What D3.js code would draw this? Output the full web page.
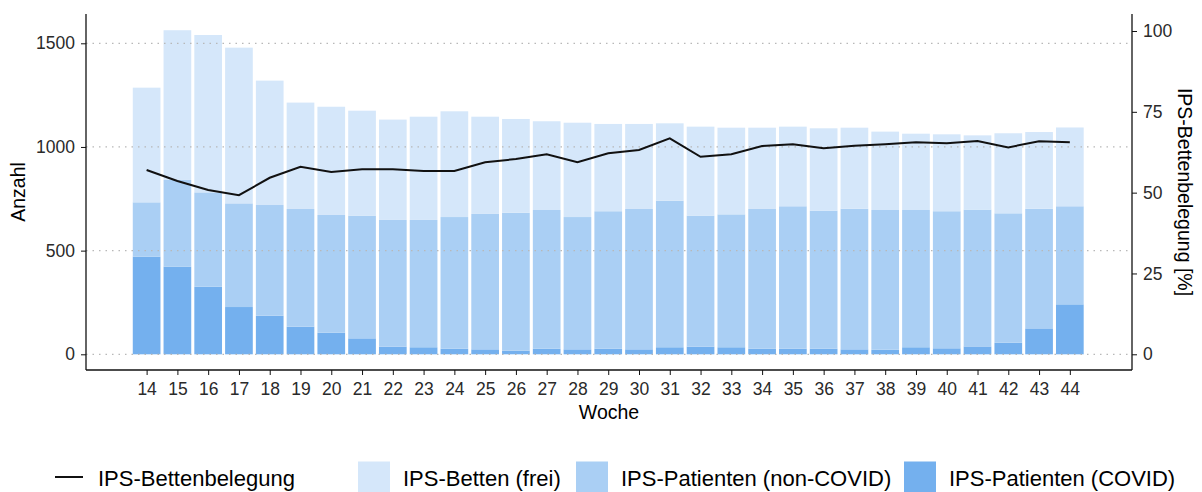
<!DOCTYPE html>
<html>
<head>
<meta charset="utf-8">
<title>IPS-Bettenbelegung</title>
<style>
  body { margin: 0; background: #fff; }
  svg text { font-family: "Liberation Sans", Arial, sans-serif; }
  .grid line { stroke: #b8b8b8; stroke-dasharray: 1.5,5; stroke-width: 1.2; }
  .axis path, .axis line { stroke: #111; }
  .axis text { fill: #2a2a2a; font-size: 17.5px; }
</style>
</head>
<body>
<script src="https://d3js.org/d3.v7.min.js"></script>
<script>
// data
var weeks      = [14,15,16,17,18,19,20,21,22,23,24,25,26,27,28,29,30,31,32,33,34,35,36,37,38,39,40,41,42,43,44];
var covid      = [471,423,326,228,186,133,104,77,37,34,27,24,17,27,24,27,24,34,37,34,27,27,27,24,22,34,29,38,56,125,241];
var nonCovid   = [262,418,455,500,534,568,568,592,611,614,635,653,666,669,638,663,677,707,632,641,674,687,666,678,674,662,661,660,624,577,473];
var frei       = [553,722,759,751,600,513,522,506,484,498,510,469,452,428,455,421,410,373,429,418,392,384,397,391,378,368,371,358,386,370,380];
var belegung   = [57.0,53.6,50.8,49.2,54.6,58.0,56.4,57.2,57.2,56.7,56.7,59.4,60.4,61.9,59.4,62.2,63.2,66.8,61.1,61.9,64.4,65.0,63.7,64.5,65.0,65.6,65.3,66.0,64.0,65.9,65.6];
var leftTicks  = [0,500,1000,1500];
var rightTicks = [0,25,50,75,100];

var seriesKeys   = ["covid","nonCovid","frei"];
var seriesColors = {covid: "#74b0ee", nonCovid: "#aacff4", frei: "#d5e7fa"};

var W = 1202, H = 492;
var pLeft = 86, pRight = 1132, pTop = 14, pBottom = 370;

var svg = d3.select("body").append("svg")
    .attr("width", W).attr("height", H);

var x = d3.scaleLinear().domain([12.03, 46.02]).range([pLeft, pRight]);
var y = d3.scaleLinear().domain([-75.7, 1641.3]).range([pBottom, pTop]);
var y2 = d3.scaleLinear().domain([-4.86, 105.26]).range([pBottom, pTop]);

var table = weeks.map(function(w, i){
    return {week: w, covid: covid[i], nonCovid: nonCovid[i], frei: frei[i]};
});
var stacked = d3.stack().keys(seriesKeys)(table);

var barW = x(0.9) - x(0);

svg.append("g").selectAll("g")
    .data(stacked)
    .enter().append("g")
    .attr("fill", function(d){ return seriesColors[d.key]; })
    .selectAll("rect")
    .data(function(d){ return d; })
    .enter().append("rect")
    .attr("x", function(d){ return x(d.data.week) - barW / 2; })
    .attr("y", function(d){ return y(d[1]); })
    .attr("width", barW)
    .attr("height", function(d){ return y(d[0]) - y(d[1]); });

// dotted grid on top of bars
svg.append("g").attr("class", "grid")
    .selectAll("line")
    .data(leftTicks)
    .enter().append("line")
    .attr("x1", pLeft).attr("x2", pRight)
    .attr("y1", function(d){ return y(d); })
    .attr("y2", function(d){ return y(d); });

// occupancy line
var line = d3.line()
    .x(function(d, i){ return x(weeks[i]); })
    .y(function(d){ return y2(d); });

svg.append("path")
    .datum(belegung)
    .attr("fill", "none")
    .attr("stroke", "#111")
    .attr("stroke-width", 2)
    .attr("d", line);

// axes
svg.append("g").attr("class", "axis")
    .attr("transform", "translate(" + pLeft + ",0)")
    .call(d3.axisLeft(y).tickValues(leftTicks).tickFormat(d3.format("d")).tickSize(5).tickPadding(6))
    .call(function(g){ g.select(".domain").attr("d", "M0," + pTop + "V" + pBottom).attr("stroke-width", 1.3); });

svg.append("g").attr("class", "axis")
    .attr("transform", "translate(" + pRight + ",0)")
    .call(d3.axisRight(y2).tickValues(rightTicks).tickFormat(d3.format("d")).tickSize(5).tickPadding(6))
    .call(function(g){ g.select(".domain").attr("d", "M0," + pTop + "V" + pBottom).attr("stroke-width", 1.3); });

svg.append("g").attr("class", "axis")
    .attr("transform", "translate(0," + pBottom + ")")
    .call(d3.axisBottom(x).tickValues(weeks).tickFormat(d3.format("d")).tickSize(5).tickPadding(8))
    .call(function(g){ g.select(".domain").attr("d", "M" + pLeft + ",0H" + pRight).attr("stroke-width", 1.3); });

// axis titles
svg.append("text")
    .attr("transform", "translate(25,192) rotate(-90)")
    .attr("text-anchor", "middle")
    .style("font-size", "19.5px")
    .text("Anzahl");

svg.append("text")
    .attr("transform", "translate(1178,192) rotate(90)")
    .attr("text-anchor", "middle")
    .style("font-size", "19.5px")
    .text("IPS-Bettenbelegung [%]");

svg.append("text")
    .attr("x", (pLeft + pRight) / 2).attr("y", 419)
    .attr("text-anchor", "middle")
    .style("font-size", "19.5px")
    .text("Woche");

// legend
var legend = svg.append("g");
legend.append("line")
    .attr("x1", 55).attr("x2", 83)
    .attr("y1", 477).attr("y2", 477)
    .attr("stroke", "#111").attr("stroke-width", 2);
legend.append("text")
    .attr("x", 98).attr("y", 486)
    .style("font-size", "22px")
    .text("IPS-Bettenbelegung");

var legendItems = [
    {key: "frei", label: "IPS-Betten (frei)", x: 358},
    {key: "nonCovid", label: "IPS-Patienten (non-COVID)", x: 576},
    {key: "covid", label: "IPS-Patienten (COVID)", x: 904}
];
legendItems.forEach(function(it){
    legend.append("rect")
        .attr("x", it.x).attr("y", 461.5)
        .attr("width", 32).attr("height", 32)
        .attr("fill", seriesColors[it.key]);
    legend.append("text")
        .attr("x", it.x + 45).attr("y", 486)
        .style("font-size", "22px")
        .text(it.label);
});
</script>
</body>
</html>
